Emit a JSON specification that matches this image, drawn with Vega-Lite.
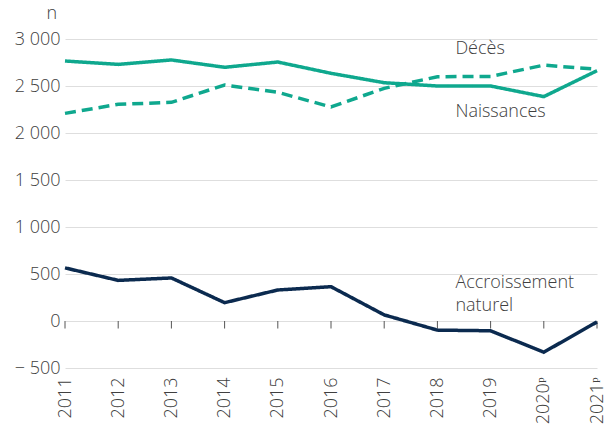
{
  "$schema": "https://vega.github.io/schema/vega-lite/v6.json",
  "width": 532,
  "height": 329,
  "autosize": {"type": "none"},
  "padding": {"left": 65, "top": 39, "right": 10, "bottom": 62},
  "config": {
    "view": {"stroke": null},
    "font": "Open Sans",
    "axis": {"labelFont": "Open Sans", "titleFont": "Open Sans", "labelFontWeight": 300, "titleFontWeight": 300, "labelColor": "#404040", "titleColor": "#404040", "labelFontSize": 18, "titleFontSize": 18}
  },
  "datasets": {
    "series": [
      {"year": "2011", "series": "Naissances", "value": 2766},
      {"year": "2012", "series": "Naissances", "value": 2730},
      {"year": "2013", "series": "Naissances", "value": 2777},
      {"year": "2014", "series": "Naissances", "value": 2699},
      {"year": "2015", "series": "Naissances", "value": 2755},
      {"year": "2016", "series": "Naissances", "value": 2635},
      {"year": "2017", "series": "Naissances", "value": 2535},
      {"year": "2018", "series": "Naissances", "value": 2500},
      {"year": "2019", "series": "Naissances", "value": 2500},
      {"year": "2020ᵖ", "series": "Naissances", "value": 2387},
      {"year": "2021ᵖ", "series": "Naissances", "value": 2663},
      {"year": "2011", "series": "Décès", "value": 2209},
      {"year": "2012", "series": "Décès", "value": 2305},
      {"year": "2013", "series": "Décès", "value": 2326},
      {"year": "2014", "series": "Décès", "value": 2511},
      {"year": "2015", "series": "Décès", "value": 2433},
      {"year": "2016", "series": "Décès", "value": 2277},
      {"year": "2017", "series": "Décès", "value": 2475},
      {"year": "2018", "series": "Décès", "value": 2599},
      {"year": "2019", "series": "Décès", "value": 2602},
      {"year": "2020ᵖ", "series": "Décès", "value": 2722},
      {"year": "2021ᵖ", "series": "Décès", "value": 2678},
      {"year": "2011", "series": "Accroissement naturel", "value": 565},
      {"year": "2012", "series": "Accroissement naturel", "value": 432},
      {"year": "2013", "series": "Accroissement naturel", "value": 458},
      {"year": "2014", "series": "Accroissement naturel", "value": 195},
      {"year": "2015", "series": "Accroissement naturel", "value": 330},
      {"year": "2016", "series": "Accroissement naturel", "value": 365},
      {"year": "2017", "series": "Accroissement naturel", "value": 65},
      {"year": "2018", "series": "Accroissement naturel", "value": -97},
      {"year": "2019", "series": "Accroissement naturel", "value": -104},
      {"year": "2020ᵖ", "series": "Accroissement naturel", "value": -332},
      {"year": "2021ᵖ", "series": "Accroissement naturel", "value": -10}
    ],
    "labels": [
      {"year": "2018", "value": 2894, "label": ["Décès"]},
      {"year": "2018", "value": 2223, "label": ["Naissances"]},
      {"year": "2018", "value": 404, "label": ["Accroissement", "naturel"]}
    ]
  },
  "encoding": {
    "x": {
      "field": "year", "type": "ordinal",
      "scale": {"type": "point", "padding": 0, "domain": ["2011","2012","2013","2014","2015","2016","2017","2018","2019","2020ᵖ","2021ᵖ"]},
      "axis": {"title": null, "labelAngle": -90, "labelAlign": "right", "labelBaseline": "middle", "labelPadding": 9, "ticks": false, "domain": false, "grid": false}
    }
  },
  "layer": [
    {
      "data": {"name": "series"},
      "mark": {"type": "rule", "color": "#dcdcdc", "strokeWidth": 0},
      "encoding": {
        "y": {
          "field": "value", "type": "quantitative",
          "scale": {"domain": [-500, 3000], "nice": false},
          "axis": {
            "title": "n", "titleAngle": 0, "titleX": -19, "titleY": -21, "titleAlign": "left", "titleBaseline": "alphabetic",
            "values": [-500, 0, 500, 1000, 1500, 2000, 2500, 3000],
            "labelExpr": "datum.value < 0 ? '− ' + replace(format(-datum.value, ','), ',', ' ') : replace(format(datum.value, ','), ',', ' ')",
            "labelPadding": 5, "ticks": false, "domain": false,
            "grid": true, "gridColor": "#dedede", "gridWidth": 1
          }
        }
      }
    },
    {
      "mark": {"type": "rule", "color": "#555555", "strokeWidth": 1},
      "encoding": {"y": {"datum": 0, "type": "quantitative"}}
    },
    {
      "data": {"name": "series"},
      "transform": [{"filter": "datum.series === 'Naissances'"}],
      "mark": {"type": "rule", "color": "#555555", "strokeWidth": 1},
      "encoding": {
        "y": {"datum": 0, "type": "quantitative"},
        "y2": {"datum": -80}
      }
    },
    {
      "data": {"name": "series"},
      "mark": {"type": "line", "strokeWidth": 3.5, "strokeJoin": "miter"},
      "encoding": {
        "y": {"field": "value", "type": "quantitative"},
        "color": {"field": "series", "type": "nominal", "legend": null,
          "scale": {"domain": ["Naissances", "Décès", "Accroissement naturel"], "range": ["#0fa88e", "#0fa88e", "#0b2a4f"]}},
        "strokeDash": {"field": "series", "type": "nominal", "legend": null,
          "scale": {"domain": ["Naissances", "Décès", "Accroissement naturel"], "range": [[1, 0], [11, 6], [1, 0]]}}
      }
    },
    {
      "data": {"name": "labels"},
      "mark": {"type": "text", "align": "left", "baseline": "middle", "dx": 18, "fontSize": 18, "fontWeight": 300, "color": "#404040", "font": "Open Sans", "lineHeight": 23},
      "encoding": {
        "y": {"field": "value", "type": "quantitative"},
        "text": {"field": "label"}
      }
    }
  ]
}
